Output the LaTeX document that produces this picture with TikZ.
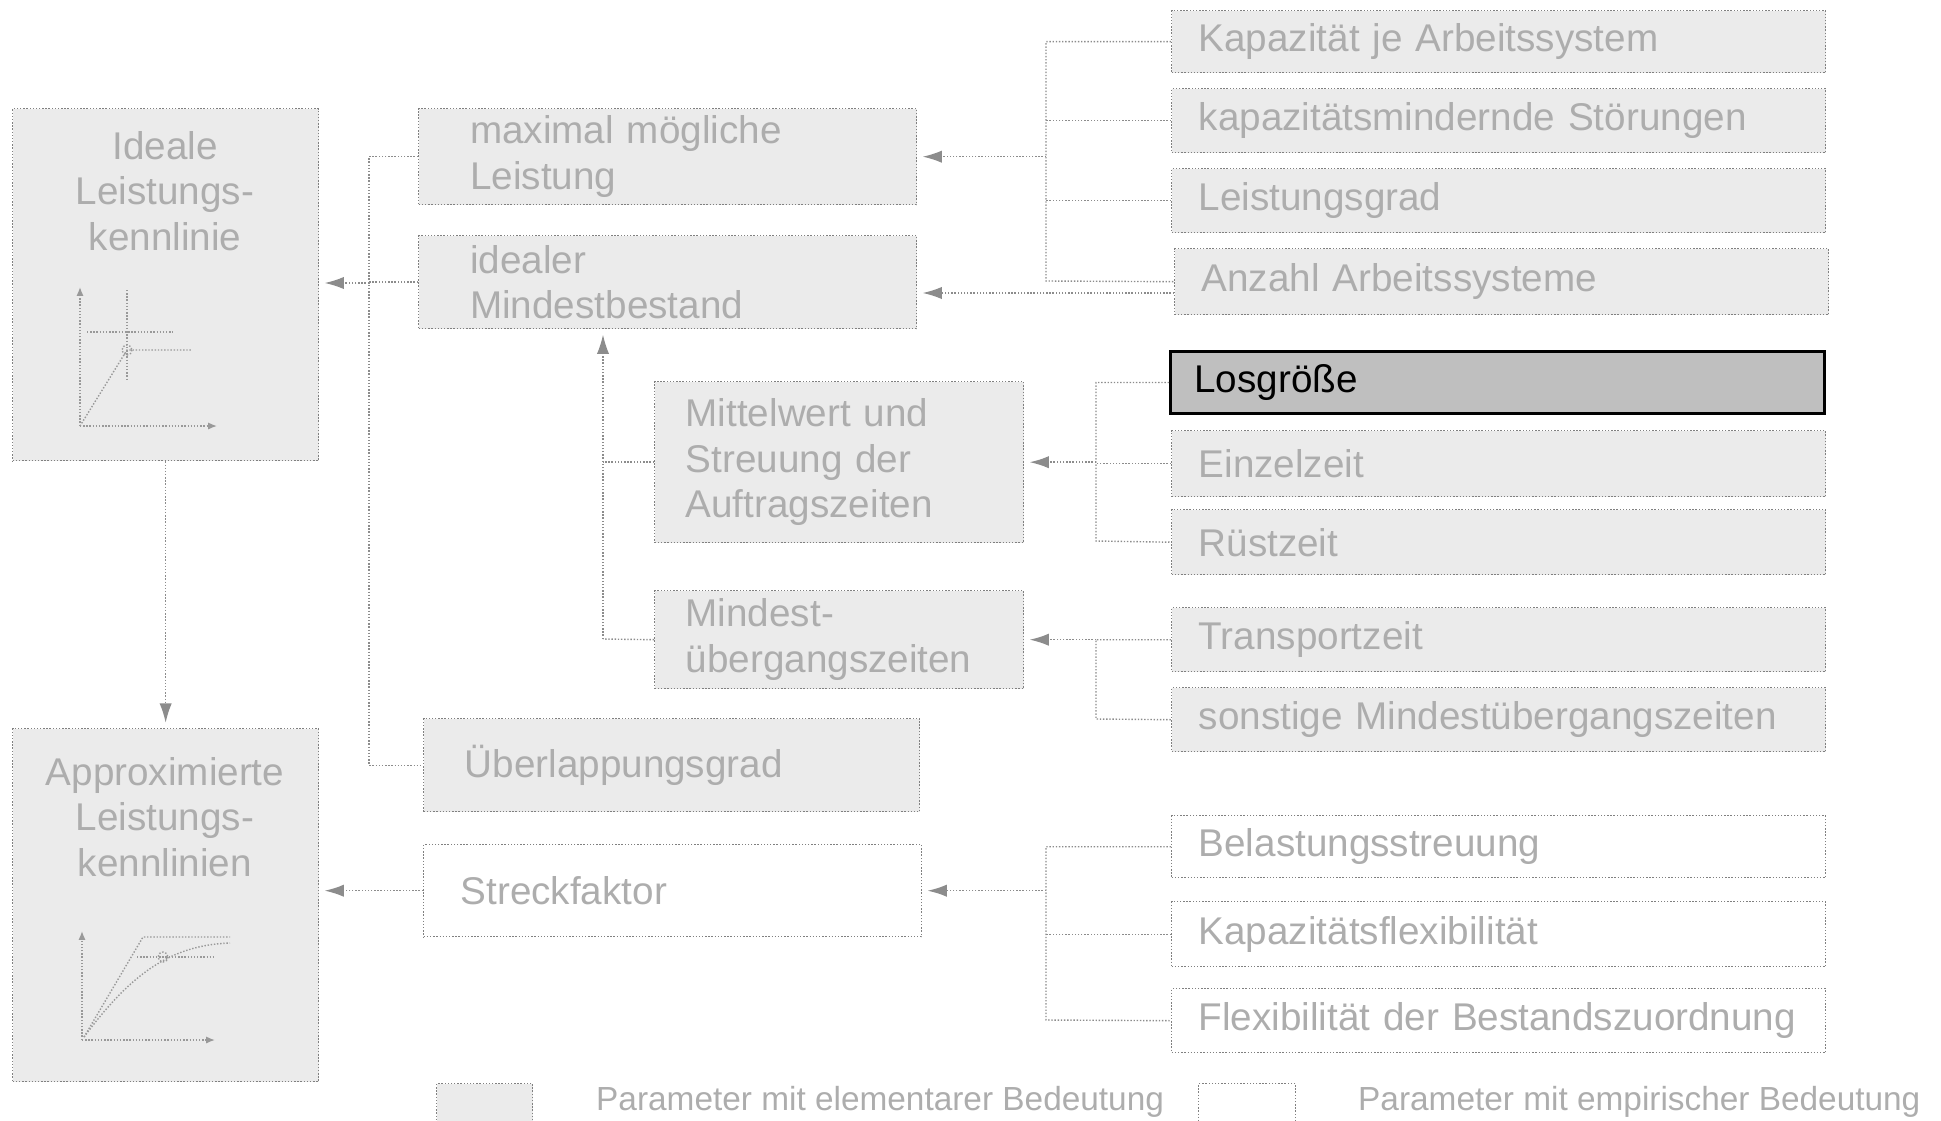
\documentclass[tikz,border=0pt]{standalone}
\usepackage{fontspec}
\setmainfont{Liberation Sans}
\usetikzlibrary{arrows.meta,positioning}

\tikzset{
  elem/.style={rectangle, draw=black!50, densely dotted, line width=0.8pt, fill=black!8, text=black!32,
    anchor=north west, align=left, inner ysep=0pt, font=\fontsize{22}{26}\selectfont},
  empir/.style={elem, fill=none},
  rbox/.style={elem, minimum width=13.08cm, text width=12cm, inner xsep=0.54cm},
  rempir/.style={rbox, fill=none},
  txt/.style={text=black!32, font=\fontsize{22}{26}\selectfont},
  conn/.style={draw=black!45, densely dotted, line width=0.8pt},
  arr/.style={conn, -{Latex[length=11pt,width=7pt]}, shorten >=3pt},
  curve/.style={draw=black!40, densely dotted, line width=0.8pt},
}

\begin{document}
\begin{tikzpicture}[x=0.02cm, y=-0.02cm]
\useasboundingbox (0,0) rectangle (1941,1120);

% left column
\node[elem, minimum width=6.12cm, minimum height=7.04cm] (ideal) at (12,108) {};
\node[txt, align=center] (idealtxt) at (165,191) {Ideale\\Leistungs-\\kennlinie};
\node[elem, minimum width=6.12cm, minimum height=7.06cm] (approx) at (12,728) {};
\node[txt, align=center] (approxtxt) at (165,817) {Approximierte\\Leistungs-\\kennlinien};

% small curve sketches
\draw[curve, -{Latex[length=5pt,width=4pt]}] (80,426) -- (80,287);
\draw[curve, -{Latex[length=5pt,width=4pt]}] (80,426) -- (217,426);
\draw[curve] (80,426) -- (127,350) -- (192,350);
\draw[curve] (127,290) -- (127,380);
\draw[curve] (87,332) -- (173,332);
\draw[curve] (127,350) circle (5);
\draw[curve, -{Latex[length=5pt,width=4pt]}] (82,1040) -- (82,931);
\draw[curve, -{Latex[length=5pt,width=4pt]}] (82,1040) -- (215,1040);
\draw[curve] (84,1037) -- (143,937) -- (230,937);
\draw[curve] (84,1037) .. controls (130,975) and (170,945) .. (230,943);
\draw[curve] (137,957) -- (213,957);
\draw[curve] (163,957) circle (5);

% middle column
\node[elem, minimum width=9.96cm, minimum height=1.92cm, text width=7.9cm, inner xsep=0.98cm] (mml) at (418,108) {maximal mögliche\\Leistung};
\node[elem, minimum width=9.96cm, minimum height=1.86cm, text width=7.9cm, inner xsep=0.98cm] (iM) at (418,235) {idealer\\Mindestbestand};
\node[elem, minimum width=7.38cm, minimum height=3.22cm, text width=6.14cm, inner xsep=0.62cm] (mw) at (654,381) {Mittelwert und\\Streuung der\\Auftragszeiten};
\node[elem, minimum width=7.38cm, minimum height=1.96cm, text width=6.14cm, inner xsep=0.62cm] (mue) at (654,590) {Mindest-\\übergangszeiten};
\node[elem, minimum width=9.92cm, minimum height=1.86cm, text width=8.28cm, inner xsep=0.82cm] (ueb) at (423,718) {Überlappungsgrad};
\node[empir, minimum width=9.96cm, minimum height=1.84cm, text width=8.48cm, inner xsep=0.74cm] (streck) at (423,844) {Streckfaktor};

% right column
\node[rbox, minimum height=1.24cm] (kap) at (1171,10) {Kapazität je Arbeitssystem};
\node[rbox, minimum height=1.28cm] (stoer) at (1171,88) {kapazitätsmindernde Störungen};
\node[rbox, minimum height=1.28cm] (lgrad) at (1171,168) {Leistungsgrad};
\node[rbox, minimum height=1.32cm] (anzahl) at (1174,248) {Anzahl Arbeitssysteme};
\node[rbox, minimum height=1.24cm, fill=black!25, draw=black, solid, line width=1.7pt, text=black, inner xsep=0.48cm, text width=12.12cm] (los) at (1169,350) {Losgröße};
\node[rbox, minimum height=1.32cm] (einzel) at (1171,430) {Einzelzeit};
\node[rbox, minimum height=1.30cm] (ruest) at (1171,509) {Rüstzeit};
\node[rbox, minimum height=1.28cm] (transp) at (1171,607) {Transportzeit};
\node[rbox, minimum height=1.28cm] (sonst) at (1171,687) {sonstige Mindestübergangszeiten};
\node[rempir, minimum height=1.24cm] (belast) at (1171,815) {Belastungsstreuung};
\node[rempir, minimum height=1.30cm] (kflex) at (1171,901) {Kapazitätsflexibilität};
\node[rempir, minimum height=1.28cm] (fbest) at (1171,988) {Flexibilität der Bestandszuordnung};

% legend
\node[elem, minimum width=1.92cm, minimum height=0.9cm] (legelem) at (436,1083) {};
\node[txt, anchor=west, font=\fontsize{19}{22}\selectfont] (legelemtxt) at (590,1102) {Parameter mit elementarer Bedeutung};
\node[empir, minimum width=1.94cm, minimum height=0.9cm] (legemp) at (1198,1083) {};
\node[txt, anchor=west, font=\fontsize{19}{22}\selectfont] (legemptxt) at (1352,1102) {Parameter mit empirischer Bedeutung};

% connectors
\coordinate (b1) at (369,283);
\draw[conn] (mml.west) -| (b1) |- (ueb.west);
\draw[conn] (iM.west) -- (iM.west -| b1);
\draw[arr] (b1) -- (ideal.east |- b1);
\draw[arr] (ideal.south) -- (approx.north);
\draw[arr] (streck.west) -- (approx.east |- streck.west);

\coordinate (b2) at (1046,281);
\draw[conn] (kap.west) -| (b2) -- (anzahl.west);
\draw[conn] (stoer.west) -- (stoer.west -| b2);
\draw[conn] (lgrad.west) -- (lgrad.west -| b2);
\draw[arr] (mml.east -| b2) -- (mml.east);
\draw[arr] (anzahl.west |- 0,293) -- (iM.east |- 0,293);

\coordinate (b3) at (603,639);
\draw[arr] (b3) -- (iM.south -| b3);
\draw[conn] (mw.west) -- (mw.west -| b3);
\draw[conn] (mue.west) -- (b3);

\coordinate (b4) at (1096,541);
\draw[conn] (los.west) -| (b4) -- (ruest.west);
\draw[conn] (einzel.west) -- (einzel.west -| b4);
\draw[arr] (mw.east -| b4) -- (mw.east);

\coordinate (b5) at (1096,719);
\draw[conn] (transp.west) -| (b5) -- (sonst.west);
\draw[arr] (mue.east -| b5) -- (mue.east);

\coordinate (b6) at (1046,1020);
\draw[conn] (belast.west) -| (b6) -- (fbest.west);
\draw[conn] (kflex.west) -- (kflex.west -| b6);
\draw[arr] (streck.east -| b6) -- (streck.east);
\end{tikzpicture}
\end{document}
